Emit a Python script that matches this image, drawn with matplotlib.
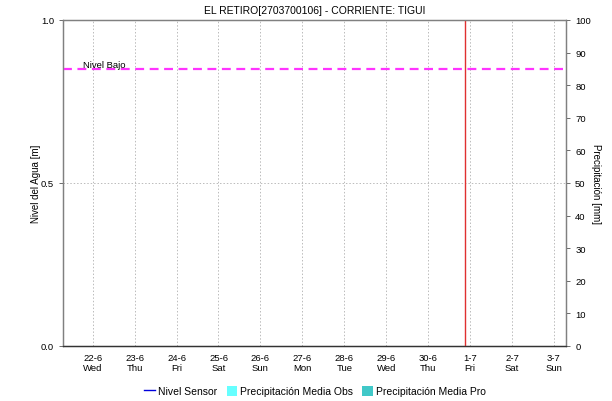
import pandas as pd
import matplotlib.pyplot as plt
import matplotlib.dates as mdates
from matplotlib.patches import Patch
from matplotlib.lines import Line2D

plt.rcParams['font.family'] = ['Liberation Sans', 'DejaVu Sans']

# Station and series data (sensor and rain series are empty in this snapshot)
title = 'EL RETIRO[2703700106] - CORRIENTE: TIGUI'
day_ticks = pd.date_range('2022-06-22', '2022-07-03', freq='D')
day_labels = ['22-6\nWed', '23-6\nThu', '24-6\nFri', '25-6\nSat', '26-6\nSun', '27-6\nMon',
              '28-6\nTue', '29-6\nWed', '30-6\nThu', '1-7\nFri', '2-7\nSat', '3-7\nSun']
sensor_times = []
sensor_level = []
rain_obs_times = []
rain_obs = []
rain_pro_times = []
rain_pro = []
nivel_bajo = 0.85
now_time = pd.Timestamp('2022-06-30 21:15')
x_start = pd.Timestamp('2022-06-21 07:00')
x_end = pd.Timestamp('2022-07-03 07:00')

fig = plt.figure(figsize=(6.12, 4.02), dpi=100)
ax = fig.add_axes([0.103, 0.137, 0.822, 0.811])
ax2 = ax.twinx()

# Precipitation bars on the right axis
ax2.bar(rain_obs_times, rain_obs, width=0.04, color='#66FFFF')
ax2.bar(rain_pro_times, rain_pro, width=0.04, color='#40C8C8')
ax2.set_ylim(0, 100)
ax2.set_yticks(range(0, 101, 10))
ax2.set_ylabel('Precipitación [mm]', rotation=-90, labelpad=7, fontsize=7)

# Water level on the left axis
ax.plot(sensor_times, sensor_level, color='#0000DD', lw=1)
ax.axhline(nivel_bajo, color='#FF33FF', ls=(0, (4, 2.5)), lw=1.6, zorder=3)
ax.text(pd.Timestamp('2022-06-21 18:30'), nivel_bajo, 'Nivel Bajo',
        fontsize=6.8, va='bottom', ha='left')
ax.axvline(now_time, color='#E03030', lw=1, zorder=4)

ax.set_xlim(x_start, x_end)
ax.set_ylim(0, 1)
ax.set_yticks([0, 0.5, 1.0])
ax.set_yticklabels(['0.0', '0.5', '1.0'])
ax.set_xticks(day_ticks)
ax.set_xticklabels(day_labels, fontsize=6.8, linespacing=1.2)
ax.set_ylabel('Nivel del Agua [m]', fontsize=7, labelpad=0)
ax.set_title(title, fontsize=7.5, pad=5)

ax.grid(True, color='#BBBBBB', ls=(0, (1.5, 2)), lw=0.7)
ax.tick_params(axis='x', length=0, pad=5)
ax.tick_params(axis='y', length=3, width=0.6, color='#555555', labelsize=6.8)
ax2.tick_params(axis='y', length=3, width=0.6, color='#555555', labelsize=6.8)
for a in (ax, ax2):
    for side in ('left', 'right', 'top'):
        a.spines[side].set_color('#808080')
        a.spines[side].set_linewidth(0.9)
    a.spines['bottom'].set_color('#333333')
    a.spines['bottom'].set_linestyle((0, (1, 1)))
    a.spines['bottom'].set_linewidth(0.9)

handles = [Line2D([], [], color='#0000DD', lw=1),
           Patch(facecolor='#66FFFF'),
           Patch(facecolor='#40C8C8')]
fig.legend(handles, ['Nivel Sensor', 'Precipitación Media Obs', 'Precipitación Media Pro'],
           loc='lower center', bbox_to_anchor=(0.515, -0.012), ncol=3, frameon=False,
           fontsize=7.5, handlelength=1.0, handleheight=1.0, handletextpad=0.3,
           columnspacing=0.9)

fig.savefig('out.png', dpi=100)
